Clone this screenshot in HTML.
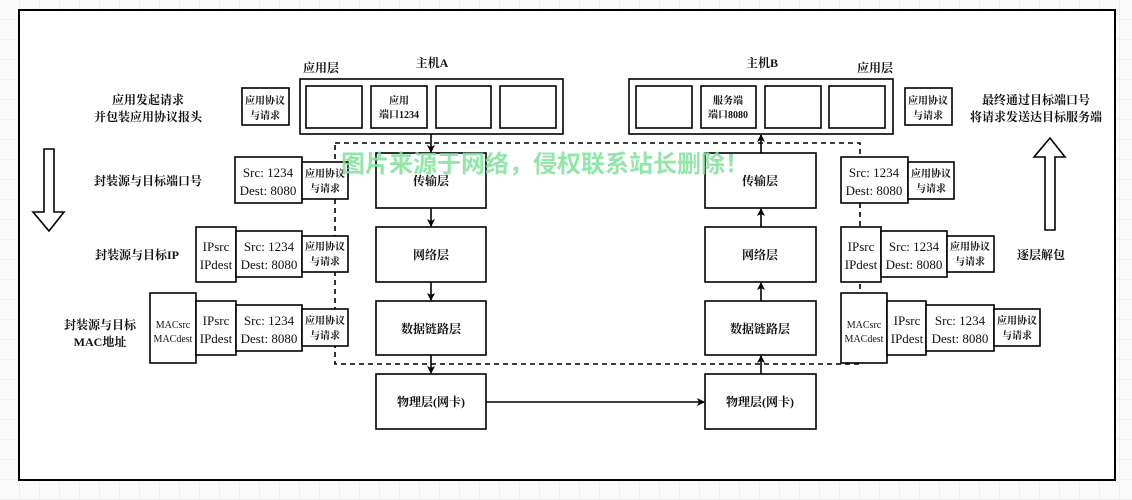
<!DOCTYPE html>
<html><head><meta charset="utf-8"><style>
html,body{margin:0;padding:0;width:1132px;height:500px;overflow:hidden;background:#fafafa}
svg{display:block}
text{font-family:"Liberation Serif","Noto Serif CJK SC",serif;fill:#111}
.c{font-weight:bold}
</style></head><body>
<svg width="1132" height="500" viewBox="0 0 1132 500" xmlns="http://www.w3.org/2000/svg">
<defs>
<pattern id="g" width="20" height="20" patternUnits="userSpaceOnUse"><path d="M20 0V20H0" fill="none" stroke="#e6e6e6" stroke-width="1"/></pattern>
<marker id="a" markerWidth="8" markerHeight="8" refX="7" refY="4" orient="auto" markerUnits="userSpaceOnUse"><path d="M0,0L8,4L0,8L2,4Z" fill="#000"/></marker>
</defs>
<rect width="1132" height="500" fill="url(#g)"/>
<rect x="19" y="10" width="1096" height="470" fill="#fff" stroke="#000" stroke-width="2"/>
<g fill="#fff" stroke="#000" stroke-width="1.6">
<!-- host A -->
<rect x="300" y="79" width="263" height="55"/>
<rect x="306" y="86" width="56" height="42"/><rect x="371" y="86" width="56" height="42"/>
<rect x="436" y="86" width="55" height="42"/><rect x="500" y="86" width="56" height="42"/>
<rect x="242" y="88" width="47" height="37"/>
<!-- host B -->
<rect x="629" y="79" width="264" height="55"/>
<rect x="636" y="86" width="56" height="42"/><rect x="701" y="86" width="55" height="42"/>
<rect x="765" y="86" width="56" height="42"/><rect x="829" y="86" width="56" height="42"/>
<rect x="905" y="88" width="47" height="37"/>
</g>
<!-- dashed -->
<path d="M335 143H860V364H335Z" fill="none" stroke="#000" stroke-width="1.6" stroke-dasharray="5,4"/>
<g fill="#fff" stroke="#000" stroke-width="1.6">
<rect x="376" y="153" width="110" height="55"/><rect x="376" y="227" width="110" height="55"/>
<rect x="376" y="301" width="110" height="54"/><rect x="376" y="374" width="110" height="55"/>
<rect x="705" y="153" width="111" height="55"/><rect x="705" y="227" width="111" height="55"/>
<rect x="705" y="301" width="111" height="54"/><rect x="705" y="374" width="111" height="55"/>
<!-- left packets -->
<rect x="235" y="157" width="67" height="46"/><rect x="302" y="162" width="46" height="37"/>
<rect x="196" y="227" width="40" height="55"/><rect x="236" y="231" width="66" height="46"/><rect x="302" y="236" width="46" height="36"/>
<rect x="150" y="293" width="46" height="70"/><rect x="196" y="301" width="40" height="54"/><rect x="236" y="305" width="66" height="46"/><rect x="302" y="309" width="46" height="37"/>
<!-- right packets -->
<rect x="841" y="157" width="67" height="46"/><rect x="908" y="162" width="46" height="37"/>
<rect x="841" y="227" width="40" height="55"/><rect x="881" y="231" width="66" height="46"/><rect x="947" y="236" width="47" height="36"/>
<rect x="841" y="293" width="46" height="70"/><rect x="887" y="301" width="39" height="54"/><rect x="926" y="305" width="68" height="46"/><rect x="994" y="309" width="46" height="37"/>
</g>
<!-- arrows -->
<g stroke="#000" stroke-width="1.6" fill="none">
<path d="M431 134V152" marker-end="url(#a)"/><path d="M431 208V226" marker-end="url(#a)"/>
<path d="M431 282V300" marker-end="url(#a)"/><path d="M431 355V373" marker-end="url(#a)"/>
<path d="M761 374V356" marker-end="url(#a)"/><path d="M761 301V283" marker-end="url(#a)"/>
<path d="M761 227V209" marker-end="url(#a)"/><path d="M761 153V135" marker-end="url(#a)"/>
<path d="M486 402H704" marker-end="url(#a)"/>
<path d="M44 149H54V212H64L49 231L33 212H44Z" fill="#fff"/>
<path d="M1045 230H1055V157H1065L1050 138L1034 157H1045Z" fill="#fff"/>
</g>
<g class="c" font-size="12" text-anchor="middle">
<text x="321" y="72">应用层</text><text x="432" y="67">主机A</text>
<text x="762" y="67">主机B</text><text x="875" y="72">应用层</text>
<text x="148" y="104">应用发起请求</text><text x="148" y="121">并包装应用协议报头</text>
<text x="1036" y="104">最终通过目标端口号</text><text x="1036" y="121">将请求发送达目标服务端</text>
<text x="148" y="185">封装源与目标端口号</text>
<text x="137" y="259">封装源与目标IP</text>
<text x="100" y="329">封装源与目标</text><text x="100" y="346">MAC地址</text>
<text x="1041" y="259">逐层解包</text>
<text x="431" y="185">传输层</text><text x="431" y="259">网络层</text><text x="431" y="333">数据链路层</text><text x="431" y="406">物理层(网卡)</text>
<text x="760" y="185">传输层</text><text x="760" y="259">网络层</text><text x="760" y="333">数据链路层</text><text x="760" y="406">物理层(网卡)</text>
</g>
<g font-size="10" text-anchor="middle" class="c">
<text x="399" y="104">应用</text><text x="399" y="118">端口1234</text>
<text x="728" y="104">服务端</text><text x="728" y="118">端口8080</text>
<text x="265" y="104">应用协议</text><text x="265" y="119">与请求</text>
<text x="928" y="104">应用协议</text><text x="928" y="119">与请求</text>
<text x="325" y="177">应用协议</text><text x="325" y="192">与请求</text>
<text x="325" y="250">应用协议</text><text x="325" y="265">与请求</text>
<text x="325" y="324">应用协议</text><text x="325" y="339">与请求</text>
<text x="931" y="177">应用协议</text><text x="931" y="192">与请求</text>
<text x="970" y="250">应用协议</text><text x="970" y="265">与请求</text>
<text x="1017" y="324">应用协议</text><text x="1017" y="339">与请求</text>
</g>
<g font-size="13" text-anchor="middle">
<text x="268" y="177">Src: 1234</text><text x="268" y="195">Dest: 8080</text>
<text x="269" y="251">Src: 1234</text><text x="269" y="269">Dest: 8080</text>
<text x="269" y="325">Src: 1234</text><text x="269" y="343">Dest: 8080</text>
<text x="216" y="251">IPsrc</text><text x="216" y="269">IPdest</text>
<text x="216" y="325">IPsrc</text><text x="216" y="343">IPdest</text>
<text x="874" y="177">Src: 1234</text><text x="874" y="195">Dest: 8080</text>
<text x="914" y="251">Src: 1234</text><text x="914" y="269">Dest: 8080</text>
<text x="960" y="325">Src: 1234</text><text x="960" y="343">Dest: 8080</text>
<text x="861" y="251">IPsrc</text><text x="861" y="269">IPdest</text>
<text x="907" y="325">IPsrc</text><text x="907" y="343">IPdest</text>
</g>
<g font-size="10" text-anchor="middle">
<text x="173" y="328">MACsrc</text><text x="173" y="342">MACdest</text>
<text x="864" y="328">MACsrc</text><text x="864" y="342">MACdest</text>
</g>
<text x="545" y="172" font-size="24" font-weight="bold" text-anchor="middle" style="fill:#7fe39a;font-family:'Noto Sans CJK SC',sans-serif" opacity="0.85">图片来源于网络，侵权联系站长删除！</text>
</svg>
</body></html>
